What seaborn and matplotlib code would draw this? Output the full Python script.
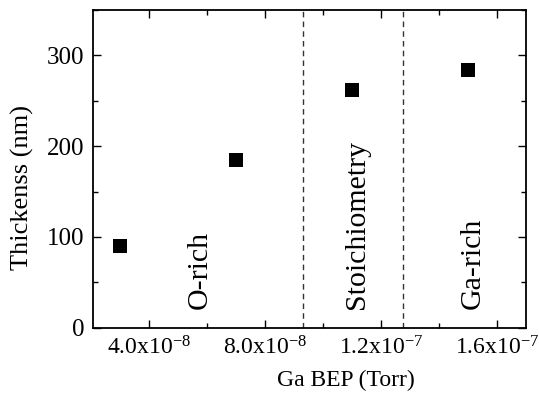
import matplotlib
matplotlib.use("Agg")
import matplotlib.pyplot as plt
import seaborn as sns
import pandas as pd
from matplotlib.ticker import FixedLocator, MultipleLocator

sns.set_theme(style="ticks")
plt.rcParams['font.family'] = ['Liberation Serif', 'DejaVu Serif']
plt.rcParams['mathtext.fontset'] = 'custom'
plt.rcParams['mathtext.rm'] = 'Liberation Serif'
plt.rcParams['mathtext.it'] = 'Liberation Serif:italic'
for k in ['text.color', 'axes.labelcolor', 'xtick.color', 'ytick.color', 'axes.edgecolor']:
    plt.rcParams[k] = 'black'

ga_bep = [3.0e-8, 7.0e-8, 1.1e-7, 1.5e-7]
thickness = [90, 185, 262, 284]
boundaries = [9.3e-8, 1.276e-7]
regions = ["O-rich", "Stoichiometry", "Ga-rich"]
region_x = [5.76e-8, 1.117e-7, 1.517e-7]
xtick_vals = [4.0e-8, 8.0e-8, 1.2e-7, 1.6e-7]
xtick_labels = [r"4.0x10$^{-8}$", r"8.0x10$^{-8}$", r"1.2x10$^{-7}$", r"1.6x10$^{-7}$"]
ytick_vals = [0, 100, 200, 300]

df = pd.DataFrame({"bep": ga_bep, "thk": thickness})

fig = plt.figure(figsize=(5.39, 4.01), dpi=100)
ax = fig.add_axes([0.1725, 0.183, 0.976 - 0.1725, 0.975 - 0.183])
sns.scatterplot(data=df, x="bep", y="thk", marker="s", s=110, color="black",
                edgecolor="black", linewidth=0, ax=ax, zorder=3)

for b in boundaries:
    ax.axvline(b, color="#333333", linestyle=(0, (4, 3)), linewidth=1.0)

for name, xv in zip(regions, region_x):
    ax.text(xv, 20, name, rotation=90, ha="center", va="bottom", fontsize=21.5)

ax.set_xlim(2.07e-8, 1.70e-7)
ax.set_ylim(0, 350)
ax.xaxis.set_major_locator(FixedLocator(xtick_vals))
ax.set_xticklabels(xtick_labels)
ax.xaxis.set_minor_locator(MultipleLocator(2e-8))
ax.yaxis.set_major_locator(FixedLocator(ytick_vals))
ax.yaxis.set_minor_locator(MultipleLocator(50))
ax.tick_params(which="both", direction="in", top=True, right=True, width=1, color="black")
ax.tick_params(axis="x", labelsize=17)
ax.tick_params(axis="y", labelsize=18)
ax.tick_params(which="major", length=6, pad=6)
ax.tick_params(which="minor", length=3.5)
for sp in ax.spines.values():
    sp.set_visible(True)
    sp.set_linewidth(1.3)
    sp.set_color("black")

ax.set_xlabel("Ga BEP (Torr)", fontsize=17)
ax.set_ylabel("Thickenss (nm)", fontsize=19)
ax.xaxis.set_label_coords(0.584, -0.133)
ax.yaxis.set_label_coords(-0.163, 0.44)
ax.yaxis.label.set_va("center")
ax.xaxis.label.set_va("top")

fig.savefig("out.png", dpi=100)
